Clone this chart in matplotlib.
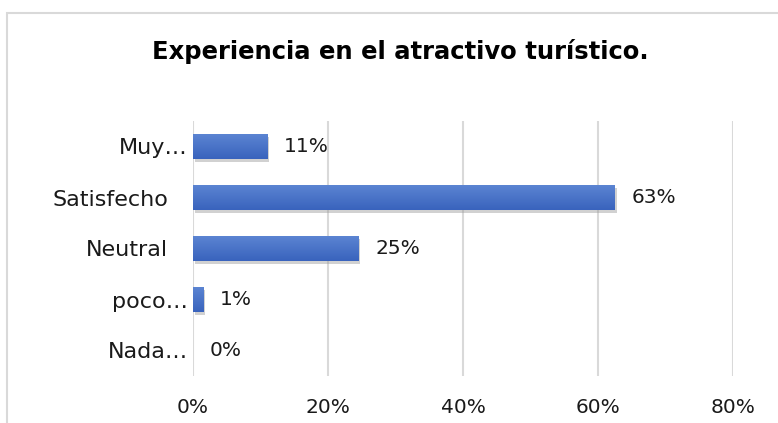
import numpy as np
import matplotlib.pyplot as plt
import matplotlib.patheffects as pe
import matplotlib.transforms as mtransforms
from matplotlib.patches import Rectangle
from matplotlib.colors import LinearSegmentedColormap

categories = ["Muy\u2026", "Satisfecho", "Neutral", "poco\u2026", "Nada\u2026"]
values = [11, 62.5, 24.5, 1.5, 0]
labels = ["11%", "63%", "25%", "1%", "0%"]
xticks = [0, 20, 40, 60, 80]

plt.rcParams['font.family'] = ['DejaVu Sans']

fig = plt.figure(figsize=(7.78, 4.23), dpi=100)
# chart border, cut off on the right and bottom
fig.patches.append(Rectangle((7/778, -0.1), 1.2, 1.1 - 13/423, transform=fig.transFigure,
                             fill=False, edgecolor='#d9d9d9', linewidth=1.5))

ax = fig.add_axes([193/778, 1 - 376/423, (733 - 193)/778, (376 - 121)/423])

ypos = list(range(len(categories)))[::-1]
bars = ax.barh(ypos, values, height=0.49, color='#4a74c8', zorder=3)

# vertical gradient in each bar, lighter at the top
cmap = LinearSegmentedColormap.from_list('bar', ['#3963bd', '#5b84d2'])
grad = np.linspace(0, 1, 64).reshape(-1, 1)
for b in bars:
    b.set_path_effects([pe.SimplePatchShadow(offset=(1.5, -2), shadow_rgbFace='#9a9a9a', alpha=0.45), pe.Normal()])
    if b.get_width() > 0:
        x0, y0 = b.get_x(), b.get_y()
        im = ax.imshow(grad, cmap=cmap, aspect='auto', origin='lower', zorder=4,
                       extent=[x0, x0 + b.get_width(), y0, y0 + b.get_height()])
        im.set_clip_path(b)

for y, v, t in zip(ypos, values, labels):
    ax.annotate(t, (v, y), xytext=(12, 0), textcoords='offset points',
                va='center', ha='left', fontsize=14.5, color='#1a1a1a')

ax.set_xlim(0, 80)
ax.set_ylim(-0.5, len(categories) - 0.5)
ax.set_xticks(xticks)
ax.set_xticklabels([f"{x}%" for x in xticks], fontsize=14.5, color='#1a1a1a')
ax.set_yticks(ypos)
ax.set_yticklabels(categories, fontsize=16, color='#1a1a1a')
ax.tick_params(axis='both', length=0)
ax.tick_params(axis='x', pad=16)
ax.tick_params(axis='y', pad=18)
# truncated labels sit closer to the axis
for lab in ax.get_yticklabels():
    if lab.get_text().endswith("\u2026"):
        lab.set_transform(lab.get_transform() + mtransforms.ScaledTranslation(20/100, 0, fig.dpi_scale_trans))
ax.grid(axis='x', color='#d9d9d9', linewidth=1.5, zorder=0)
for s in ax.spines.values():
    s.set_visible(False)

fig.text(0.515, 1 - 52/423, "Experiencia en el atractivo tur\u00edstico.", ha='center', va='center',
         fontsize=17.5, fontweight='bold', color='#000000')

fig.savefig("out.png", dpi=100)
